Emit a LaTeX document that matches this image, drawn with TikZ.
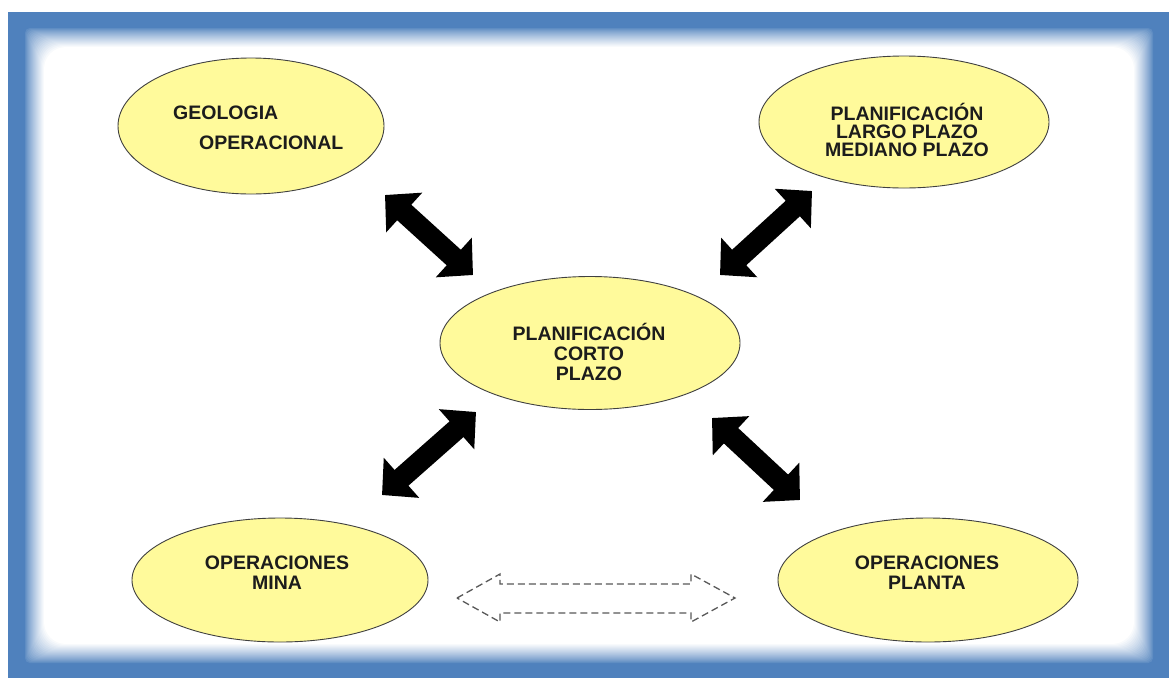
\documentclass[tikz,border=0pt]{standalone}
\usepackage{fontspec}
\setmainfont{Liberation Sans}
\usetikzlibrary{shapes.geometric,arrows.meta}
\definecolor{frameblue}{RGB}{79,129,189}
\definecolor{ellfill}{RGB}{255,250,155}
\definecolor{txt}{RGB}{28,28,28}
\tikzset{
  oval/.style={ellipse, draw=black!75, line width=0.9pt, fill=ellfill, inner sep=0pt},
  lbl/.style={font=\fontsize{19.5}{20}\selectfont\bfseries, text=txt, align=center, inner sep=0pt},
  lbltight/.style={font=\fontsize{19.5}{18}\selectfont\bfseries, text=txt, align=center, inner sep=0pt},
  bigarrow/.style={line width=21pt, black, {Triangle[length=26pt,width=52pt]}-{Triangle[length=26pt,width=52pt]}},
  hollow/.style={draw=black!65, dash pattern=on 7pt off 4pt, line width=1.3pt, line join=miter}
}
\begin{document}
\begin{tikzpicture}[x=1pt,y=-1pt]
\useasboundingbox (0,0) rectangle (1169,678);
\fill[white] (0,0) rectangle (1169,678);
% frame
\fill[frameblue] (8,12) rectangle (1169,678);
\foreach \k in {0,...,20}{
  \pgfmathsetmacro{\p}{100*(\k/20)^0.8}
  \pgfmathsetmacro{\r}{4+\k*0.9}
  \fill[white!\p!frameblue, rounded corners=\r pt] (24+\k,27+\k) rectangle (1154-\k,664-\k);
}
% ellipses
\node[oval, minimum width=266pt, minimum height=136pt] (geo) at (251,126) {};
\node[oval, minimum width=290pt, minimum height=132pt] (largo) at (904,122) {};
\node[oval, minimum width=300pt, minimum height=133pt] (corto) at (590,343) {};
\node[oval, minimum width=296pt, minimum height=124pt] (mina) at (280,580) {};
\node[oval, minimum width=300pt, minimum height=124pt] (planta) at (928,580) {};
% texts
\node[lbl, anchor=west] (geoT1) at (173,113) {GEOLOGIA};
\node[lbl, anchor=west] (geoT2) at (199,143) {OPERACIONAL};
\node[lbltight] (largoT) at (907,130) {PLANIFICACIÓN\\LARGO PLAZO\\MEDIANO PLAZO};
\node[lbl] (cortoT) at (589,352) {PLANIFICACIÓN\\CORTO\\PLAZO};
\node[lbl] (minaT) at (277,573) {OPERACIONES\\MINA};
\node[lbl] (plantaT) at (927,573) {OPERACIONES\\PLANTA};
% thick arrows
\coordinate (a1s) at (385,195); \coordinate (a1e) at (473,275);
\coordinate (a2s) at (812,191); \coordinate (a2e) at (720,275);
\coordinate (a3s) at (476,412); \coordinate (a3e) at (382,495);
\coordinate (a4s) at (712,418); \coordinate (a4e) at (800,500);
\draw[bigarrow] (a1s) -- (a1e);
\draw[bigarrow] (a2s) -- (a2e);
\draw[bigarrow] (a3s) -- (a3e);
\draw[bigarrow] (a4s) -- (a4e);
% dashed hollow double arrow
\coordinate (hl) at (457,598);
\coordinate (hr) at (735,598);
\draw[hollow] (hl) -- (500,574) -- (500,584) -- (691,584) -- (691,574) -- (hr)
  -- (691,622) -- (691,613) -- (500,613) -- (500,622) -- cycle;
\end{tikzpicture}
\end{document}
